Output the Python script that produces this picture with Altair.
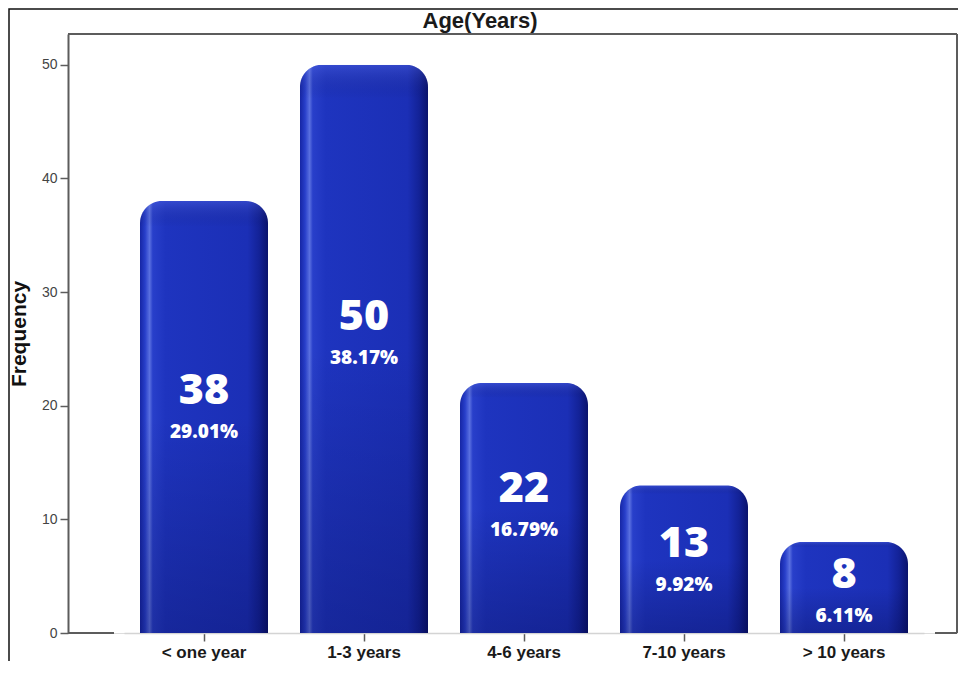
import altair as alt
import pandas as pd

# ---- data ----
categories = ["< one year", "1-3 years", "4-6 years", "7-10 years", "> 10 years"]
counts = [38, 50, 22, 13, 8]
percents = ["29.01%", "38.17%", "16.79%", "9.92%", "6.11%"]
y_ticks = [0, 10, 20, 30, 40, 50]
chart_title = "Age(Years)"
y_title = "Frequency"

df = pd.DataFrame({"cat": categories, "n": counts, "pct": percents})
dummy = pd.DataFrame({"k": [0]})

W, H = 889, 599
FRAME = "#5c5c5c"

x_scale = alt.Scale(range=[56, 856], paddingInner=0.2, paddingOuter=0.1)
y_scale = alt.Scale(domain=[0, 52.7], nice=False, zero=True)

x_axis = alt.Axis(
    title=None, labelAngle=0, labelFont="Liberation Sans Narrow, Liberation Sans, Arial",
    labelFontWeight="bold", labelFontSize=17, labelColor="#1a1a1a", labelPadding=3,
    tickSize=8, tickColor=FRAME, tickWidth=1.5, domainColor="#d4d4d4", domainWidth=1.5,
)
y_axis = alt.Axis(
    values=y_ticks, title=y_title, grid=False, labelFont="Liberation Sans",
    labelFontSize=14, labelColor="#444444", labelPadding=3, tickSize=8,
    tickColor=FRAME, tickWidth=1.5, domainColor=FRAME, domainWidth=2,
    titleFont="Liberation Sans", titleFontSize=21, titleFontWeight="bold",
    titleColor="#111111", titleX=-49, titleY=H / 2, titleAngle=270,
    titleAlign="center", titleBaseline="middle",
)

grad_h = alt.LinearGradient(
    gradient="linear", x1=0, y1=0, x2=1, y2=0,
    stops=[
        alt.GradientStop(offset=0.0, color="#1626a4"),
        alt.GradientStop(offset=0.04, color="#283fca"),
        alt.GradientStop(offset=0.075, color="#5a70e0"),
        alt.GradientStop(offset=0.10, color="#283fca"),
        alt.GradientStop(offset=0.2, color="#1e34bf"),
        alt.GradientStop(offset=0.84, color="#1b2fb6"),
        alt.GradientStop(offset=0.93, color="#132297"),
        alt.GradientStop(offset=1.0, color="#0a136c"),
    ],
)
grad_v = alt.LinearGradient(
    gradient="linear", x1=0, y1=0, x2=0, y2=1,
    stops=[
        alt.GradientStop(offset=0.0, color="rgba(120,140,255,0.25)"),
        alt.GradientStop(offset=0.06, color="rgba(0,0,40,0)"),
        alt.GradientStop(offset=0.5, color="rgba(0,0,40,0)"),
        alt.GradientStop(offset=1.0, color="rgba(0,0,50,0.25)"),
    ],
)

X = alt.X("cat:N", sort=categories, scale=x_scale, axis=x_axis)

base = alt.Chart(df)

bars = base.mark_bar(
    color=grad_h, cornerRadiusTopLeft=22, cornerRadiusTopRight=22
).encode(x=X, y=alt.Y("n:Q", scale=y_scale, axis=y_axis))

shade = base.mark_bar(
    color=grad_v, cornerRadiusTopLeft=22, cornerRadiusTopRight=22
).encode(x=X, y=alt.Y("n:Q", scale=y_scale, axis=y_axis))

lab_base = base.transform_calculate(ly="datum.n * 0.54 + 0.8")

count_text = lab_base.mark_text(
    font="Open Sans", fontWeight=800, fontSize=43, color="white",
    baseline="middle", align="center",
).encode(x=X, y=alt.Y("ly:Q", scale=y_scale, axis=y_axis), text="n:Q")

pct_text = lab_base.mark_text(
    font="Open Sans", fontWeight=800, fontSize=19, color="white",
    baseline="middle", align="center", dy=41,
).encode(x=X, y=alt.Y("ly:Q", scale=y_scale, axis=y_axis), text="pct:N")

d = alt.Chart(dummy)
top_line = d.mark_rule(color=FRAME, strokeWidth=2).encode(
    x=alt.value(0), x2=alt.value(W), y=alt.value(0))
right_line = d.mark_rule(color=FRAME, strokeWidth=2).encode(
    x=alt.value(W), y=alt.value(0), y2=alt.value(H))
bl_left = d.mark_rule(color=FRAME, strokeWidth=2).encode(
    x=alt.value(0), x2=alt.value(46), y=alt.value(H))
bl_right = d.mark_rule(color=FRAME, strokeWidth=2).encode(
    x=alt.value(867), x2=alt.value(W), y=alt.value(H))
outer = d.mark_rect(filled=False, stroke="#111111", strokeWidth=1.5).encode(
    x=alt.value(-59), x2=alt.value(W + 200), y=alt.value(-25), y2=alt.value(H + 200))
title_text = d.mark_text(
    text=chart_title, font="Liberation Sans", fontWeight="bold", fontSize=22,
    color="#1a1a1a", align="center", baseline="middle",
).encode(x=alt.value(412), y=alt.value(-13))

chart = alt.layer(
    bars, shade, count_text, pct_text, top_line, right_line, bl_left, bl_right,
    outer, title_text,
).properties(
    width=W, height=H,
    autosize=alt.AutoSizeParams(type="none"),
    padding={"left": 60, "top": 26, "right": 1, "bottom": 28},
).configure_view(stroke=None).configure(background="white")

chart.save("out.html", embed_options={"renderer": "svg", "actions": False})
